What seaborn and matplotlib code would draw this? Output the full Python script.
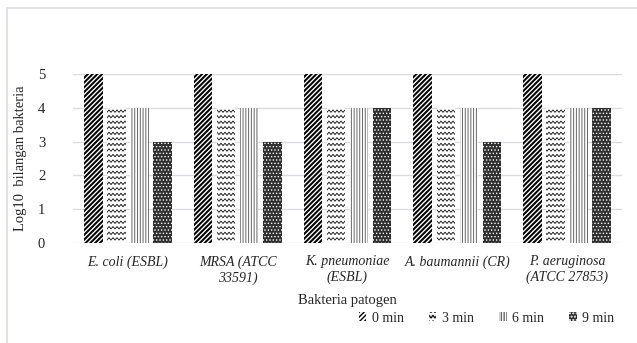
import warnings
warnings.filterwarnings("ignore")
import numpy as np
import matplotlib
matplotlib.use("Agg")
import matplotlib.pyplot as plt
import matplotlib.hatch as mhatch
from matplotlib.path import Path
import seaborn as sns
import pandas as pd
from matplotlib.patches import Rectangle

categories = ["E. coli (ESBL)", "MRSA (ATCC\n33591)", "K. pneumoniae\n(ESBL)",
              "A. baumannii (CR)", "P. aeruginosa\n(ATCC 27853)"]
times = ["0 min", "3 min", "6 min", "9 min"]
v0 = [5, 5, 5, 5, 5]
v3 = [4, 4, 4, 4, 4]
v6 = [4, 4, 4, 4, 4]
v9 = [3, 3, 4, 3, 4]


class WavyHatch(mhatch.HatchPatternBase):
    """Horizontal wavy lines, triggered by '~'."""
    def __init__(self, hatch, density):
        self.num_rows = hatch.count('~') * density
        self.waves = int(self.num_rows * 1.4)
        self.npts = self.waves * 8 + 1 if self.num_rows else 0
        self.num_vertices = (self.num_rows + 1) * self.npts if self.num_rows else 0

    def set_vertices_and_codes(self, vertices, codes):
        if not self.num_rows:
            return
        x = np.linspace(0, 1, self.npts)
        amp = 0.22 / self.num_rows
        k = 0
        for i in range(self.num_rows + 1):
            y0 = i / self.num_rows
            vertices[k:k + self.npts, 0] = x
            vertices[k:k + self.npts, 1] = y0 + amp * np.sin(2 * np.pi * self.waves * x)
            codes[k] = Path.MOVETO
            codes[k + 1:k + self.npts] = Path.LINETO
            k += self.npts


mhatch._hatch_types.append(WavyHatch)

rows = []
for t, vals in zip(times, [v0, v3, v6, v9]):
    for c, v in zip(categories, vals):
        rows.append({"Bakteri": c, "Waktu": t, "Nilai": v})
df = pd.DataFrame(rows)

sns.set_theme(style="white")
plt.rcParams['font.family'] = ['Liberation Serif', 'DejaVu Serif']
plt.rcParams['hatch.linewidth'] = 1.0

fig = plt.figure(figsize=(6.37, 3.43), dpi=100)
ax = fig.add_axes([73/637, 1-243/343, (622-73)/637, (243-74)/343])

sns.barplot(data=df, x="Bakteri", y="Nilai", hue="Waktu", ax=ax,
            width=0.84, gap=0.2, palette=["white"]*4, edgecolor="black",
            linewidth=0, legend=True)

hatches = ["///////", "~~~", "||||||", "....."]
faces = ["white", "white", "white", "#2e2e2e"]
edges = ["#000000", "#222222", "#666666", "white"]
hlw = [1.45, 0.5, 0.7, 0.6]


def style(p, h, fc, ec, lw):
    p.set_hatch(h)
    p.set_facecolor(fc)
    p.set_edgecolor(ec)
    p.set_linewidth(0)
    if hasattr(p, "set_hatch_linewidth"):
        p.set_hatch_linewidth(lw)


for cont, h, fc, ec, lw in zip(ax.containers, hatches, faces, edges, hlw):
    for p in cont.patches:
        style(p, h, fc, ec, lw)

ax.set_ylim(0, 5)
ax.set_yticks([0, 1, 2, 3, 4, 5])
ax.yaxis.grid(True, color="#d9dde3", linewidth=1)
ax.set_axisbelow(True)
for s in ax.spines.values():
    s.set_visible(False)
ax.tick_params(axis='y', labelsize=10.5, pad=20, length=0)
ax.tick_params(axis='x', labelsize=10, length=0, pad=9)
for lab in ax.get_xticklabels():
    lab.set_fontstyle('italic')
ax.set_ylabel("Log10  bilangan bakteria", fontsize=10.5, labelpad=8)
ax.set_xlabel("Bakteria patogen", fontsize=10.5, labelpad=7)

handles, labels = ax.get_legend_handles_labels()
for hd, h, fc, ec, lw in zip(handles, hatches, faces, edges, hlw):
    style(hd, h, fc, ec, lw)
ax.legend(handles, labels, loc="lower right", bbox_to_anchor=(627/637, 6/343),
          bbox_transform=fig.transFigure, ncol=4, frameon=False, fontsize=10,
          handlelength=0.55, handleheight=0.55, handletextpad=0.4, columnspacing=1.8)

fig.patches.append(Rectangle((7/637, -0.1), 1.2, 1 - 8/343 + 0.1, transform=fig.transFigure,
                             fill=False, edgecolor="#d9dde3", linewidth=1.2))

fig.savefig("out.png", dpi=100)
